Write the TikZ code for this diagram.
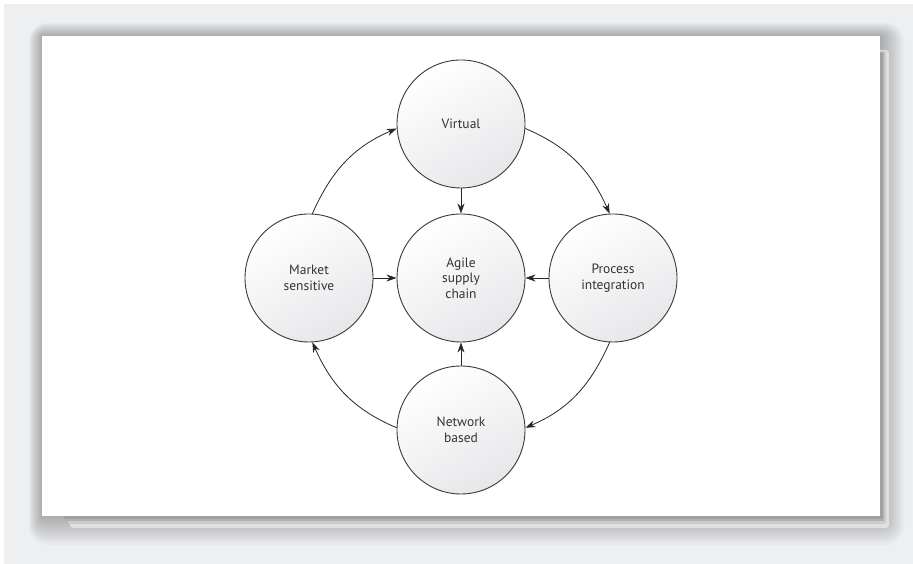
\documentclass[tikz,border=0pt]{standalone}
\usepackage{fontspec}
\setmainfont{PT Sans}
\usetikzlibrary{arrows.meta}
\definecolor{bgout}{HTML}{EEEFF1}
\definecolor{edge}{HTML}{3A3A3A}
\definecolor{txt}{HTML}{333333}
\definecolor{circlo}{HTML}{E6E7E9}
\tikzset{
  bubble/.style={circle, draw=edge, line width=0.9pt, minimum size=128pt, inner sep=0pt,
    top color=white, bottom color=circlo, shading angle=30, text=txt, align=center,
    font=\fontsize{13.5}{15.5}\selectfont},
  arr/.style={draw=black!85, line width=0.8pt, -{Stealth[length=10pt,width=7pt]}}
}
\begin{document}
\begin{tikzpicture}[x=1pt,y=1pt]
\useasboundingbox (0,0) rectangle (913,564);
\fill[white] (0,0) rectangle (913,564);
\fill[bgout] (4,0) rectangle (913,560);
% soft shadow
\foreach \i in {1,...,12}{
  \fill[black,opacity=0.022,rounded corners=\i*1.6pt]
    (42-\i*1.1, 48-\i*2.4) rectangle (880+\i*2.0, 528+\i*1.1);
}
% darker edge bands (right and bottom), graded
\fill[black!12,rounded corners=3pt] (70,36) rectangle (889,514);
\fill[black!20,rounded corners=2pt] (68,40) rectangle (886,513);
\fill[black!30,rounded corners=1pt] (66,43) rectangle (884,512);
\fill[black!37] (64,45) rectangle (883,511);
\fill[white] (42,48) rectangle (880,528);
% nodes
\node[bubble] (virt) at (461,440) {Virtual};
\node[bubble] (agile) at (461,286) {Agile\\supply\\chain};
\node[bubble] (mkt) at (309,286) {Market\\sensitive};
\node[bubble] (proc) at (613,286) {Process\\integration};
\node[bubble] (net) at (461,134) {Network\\based};
% straight arrows
\draw[arr] (virt.south) -- (agile.north);
\draw[arr] (mkt.east) -- (agile.west);
\draw[arr] (proc.west) -- (agile.east);
\draw[arr] (net.north) -- (agile.south);
% curved arrows
\draw[arr] (mkt.87) to[out=66,in=203] (virt.184);
\draw[arr] (virt.356) to[out=-23,in=114] (proc.93);
\draw[arr] (proc.267) to[out=246,in=23] (net.2);
\draw[arr] (net.178) to[out=157,in=294] (mkt.273);
\end{tikzpicture}
\end{document}
